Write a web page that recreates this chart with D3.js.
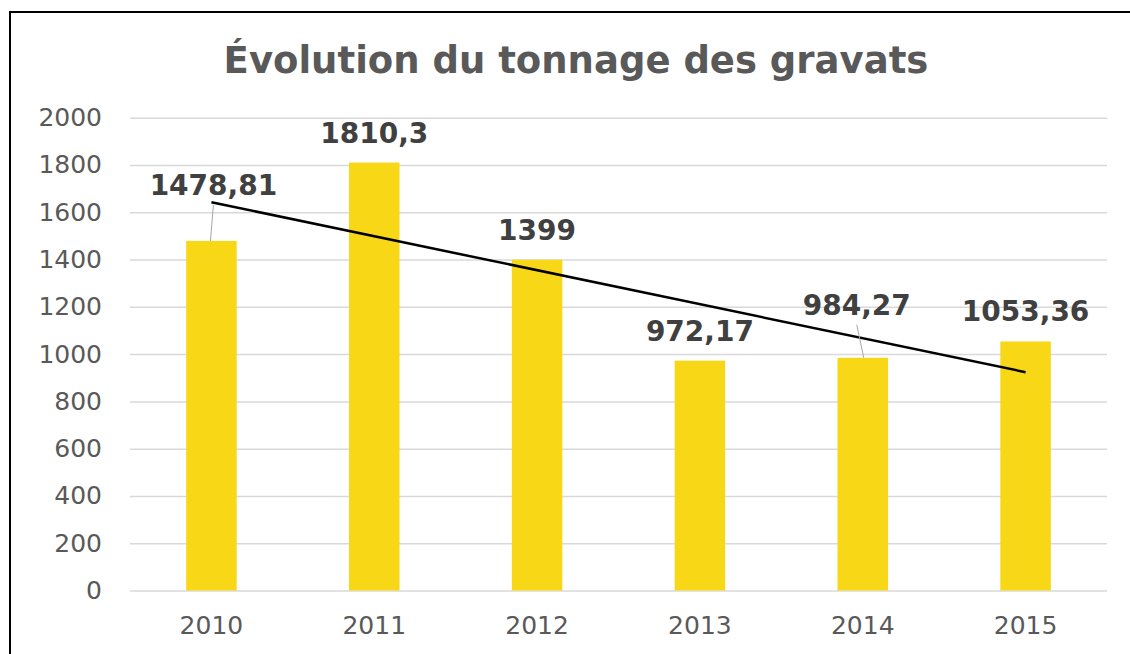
<!DOCTYPE html>
<html>
<head>
<meta charset="utf-8">
<script src="https://cdn.jsdelivr.net/npm/d3@7"></script>
<style>
  body { margin: 0; background: #fff; }
  svg { display: block; }
  text { font-family: "DejaVu Sans", Verdana, sans-serif; }
</style>
</head>
<body>
<svg id="chart" width="1130" height="654"></svg>
<script>
// data
const years = ["2010", "2011", "2012", "2013", "2014", "2015"];
const tonnage = [1478.81, 1810.3, 1399, 972.17, 984.27, 1053.36];
const labels = ["1478,81", "1810,3", "1399", "972,17", "984,27", "1053,36"];
const yTicks = [0, 200, 400, 600, 800, 1000, 1200, 1400, 1600, 1800, 2000];

const svg = d3.select("#chart");

// chart frame
svg.append("rect")
   .attr("x", 10).attr("y", 12)
   .attr("width", 1140).attr("height", 660)
   .attr("fill", "#fff")
   .attr("stroke", "#000")
   .attr("stroke-width", 2);

let xScale = d3.scaleBand().domain(years).range([130, 1107]).paddingInner(0.69).paddingOuter(0.345);
let yScale = d3.scaleLinear().domain([0, 2000]).range([590.5, 117.7]);

// title
svg.append("text")
   .attr("x", 576).attr("y", 73)
   .attr("text-anchor", "middle")
   .attr("font-size", 37)
   .attr("font-weight", "bold")
   .attr("fill", "#595959")
   .text("Évolution du tonnage des gravats");

// y axis with gridlines
svg.append("g")
   .attr("transform", "translate(130,0)")
   .call(d3.axisLeft(yScale).tickValues(yTicks).tickSize(-977).tickPadding(28).tickFormat(d3.format("d")))
   .call(g => g.select(".domain").remove())
   .call(g => g.selectAll("line").attr("stroke", "#d9d9d9").attr("stroke-width", 1.5))
   .call(g => g.selectAll("text")
               .attr("font-size", 25)
               .attr("fill", "#595959")
               .attr("font-family", "DejaVu Sans, Verdana, sans-serif"));

// x axis labels
svg.append("g")
   .attr("transform", "translate(0,590.5)")
   .call(d3.axisBottom(xScale).tickSize(0).tickPadding(26))
   .call(g => g.select(".domain").remove())
   .call(g => g.selectAll("text")
               .attr("font-size", 25)
               .attr("fill", "#595959")
               .attr("font-family", "DejaVu Sans, Verdana, sans-serif"));

// bars
svg.append("g")
   .selectAll("rect")
   .data(tonnage)
   .enter()
   .append("rect")
   .attr("x", (d, i) => xScale(years[i]))
   .attr("width", xScale.bandwidth())
   .attr("y", d => yScale(d))
   .attr("height", d => yScale(0) - yScale(d))
   .attr("fill", "#F8D717");

// linear trendline (least squares over the six years)
let xs = years.map((y, i) => i);
let mx = d3.mean(xs), my = d3.mean(tonnage);
let slope = d3.sum(xs, (x, i) => (x - mx) * (tonnage[i] - my)) / d3.sum(xs, x => (x - mx) * (x - mx));
let icpt = my - slope * mx;
let cx = i => xScale(years[i]) + xScale.bandwidth() / 2;

svg.append("line")
   .attr("x1", cx(0)).attr("y1", yScale(icpt))
   .attr("x2", cx(5)).attr("y2", yScale(icpt + slope * 5))
   .attr("stroke", "#000")
   .attr("stroke-width", 2.5);

// data labels, some moved off their bar with a leader line
const nudge = { "2010": [2, -26], "2014": [-6, -23] };

tonnage.forEach((d, i) => {
    let n = nudge[years[i]] || [0, 0];
    let lx = cx(i) + n[0];
    let ly = yScale(d) - 20 + n[1];
    if (nudge[years[i]]) {
        svg.append("line")
           .attr("x1", lx).attr("y1", ly + 10)
           .attr("x2", cx(i) + (n[0] < 0 ? 1 : -1)).attr("y2", yScale(d))
           .attr("stroke", "#a6a6a6")
           .attr("stroke-width", 1);
    }
    svg.append("text")
       .attr("x", lx).attr("y", ly)
       .attr("text-anchor", "middle")
       .attr("font-size", 28)
       .attr("font-weight", "bold")
       .attr("fill", "#404040")
       .text(labels[i]);
});
</script>
</body>
</html>
